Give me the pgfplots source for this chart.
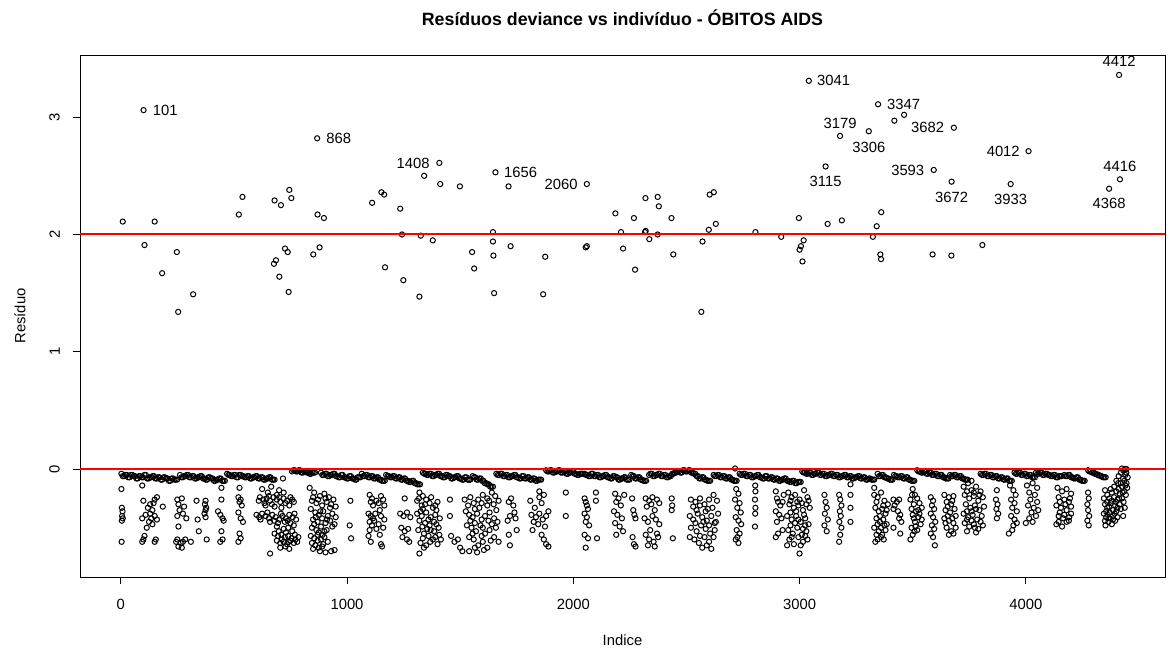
\documentclass[border=0pt]{standalone}
\usepackage{fontspec}
\setmainfont{Liberation Sans}
\usepackage{pgfplots}
\pgfplotsset{compat=1.18}
\begin{document}
\begin{tikzpicture}
\path[use as bounding box] (-80pt,-71pt) rectangle (1090pt,577pt);
\begin{axis}[
  at={(0pt,0pt)}, anchor=south west,
  scale only axis, width=1085pt, height=522pt,
  xmin=-180, xmax=4615, ymin=-0.92, ymax=3.53,
  axis line style={black, line width=0.8pt},
  xtick={0,1000,2000,3000,4000}, xticklabels={0,1000,2000,3000,4000},
  ytick={0,1,2,3}, yticklabels={0,1,2,3},
  xtick pos=left, ytick pos=left,
  tick align=outside, major tick length=7pt,
  every tick/.style={black, line width=0.8pt},
  /pgf/number format/assume math mode=true,
  xticklabel style={font=\fontsize{14.8}{17}\selectfont, anchor=base, inner sep=0pt},
  yticklabel style={font=\fontsize{14.8}{17}\selectfont, rotate=90, anchor=south, inner sep=0pt},
  xticklabel shift=25.5pt, yticklabel shift=13pt,
  clip mode=individual,
  mark options={line width=1pt, solid},
]
% points above zero
\addplot[only marks, mark=o, mark size=2.6pt, black] coordinates {
(9,2.11)(101,3.06)(105,1.91)(150,2.11)(183,1.67)(248,1.85)(254,1.34)(320,1.49)(522,2.17)(538,2.32)(677,1.75)(680,2.29)(686,1.78)(701,1.64)(708,2.25)(726,1.88)(738,1.85)(742,1.51)(745,2.38)(754,2.31)(851,1.83)(868,2.82)(870,2.17)(879,1.89)(898,2.14)
(1111,2.27)(1152,2.36)(1164,2.34)(1168,1.72)(1235,2.22)(1243,2.00)(1249,1.61)(1320,1.47)(1326,1.99)(1341,2.50)(1379,1.95)(1408,2.61)(1412,2.43)(1499,2.41)(1553,1.85)(1562,1.71)(1645,2.02)(1645,1.94)(1647,1.82)(1650,1.50)(1656,2.53)(1714,2.41)(1723,1.90)(1867,1.49)(1876,1.81)(2055,1.89)(2060,1.90)(2060,2.43)(2186,2.18)(2211,2.02)(2220,1.88)
(2268,2.14)(2273,1.70)(2317,2.02)(2319,2.31)(2320,2.03)(2336,1.96)(2373,2.32)(2373,2.00)(2378,2.24)(2434,2.14)(2442,1.83)(2566,1.34)(2571,1.94)(2599,2.04)(2603,2.34)(2621,2.36)(2630,2.09)(2805,2.02)(2919,1.98)(2997,2.14)(3000,1.87)(3006,1.90)(3013,1.77)(3018,1.95)(3041,3.31)(3115,2.58)(3124,2.09)(3179,2.84)(3187,2.12)(3306,2.88)(3324,1.98)(3341,2.07)(3347,3.11)(3357,1.83)(3360,1.79)(3361,2.19)(3419,2.97)(3462,3.02)(3588,1.83)(3593,2.55)(3671,1.82)(3672,2.45)(3682,2.91)(3808,1.91)(3933,2.43)(4012,2.71)(4368,2.39)(4412,3.36)(4416,2.47)
};
% dense band just below zero
\addplot[only marks, mark=o, mark size=2.6pt, black] coordinates {
(3,-.04)(15,-.06)(27,-.05)(39,-.07)(51,-.05)(63,-.06)(75,-.08)(87,-.06)(99,-.07)(111,-.05)(123,-.08)(135,-.07)(147,-.06)(159,-.08)(171,-.07)(183,-.09)(195,-.07)(207,-.08)(219,-.1)(231,-.08)(243,-.09)
(262,-.05)(274,-.07)(286,-.06)(298,-.05)(310,-.07)(322,-.06)(334,-.08)(346,-.07)(358,-.06)(370,-.08)(382,-.09)(394,-.07)(406,-.08)(418,-.1)(430,-.09)(442,-.08)(454,-.1)
(470,-.04)(482,-.05)(494,-.06)(506,-.05)(518,-.07)(530,-.05)(542,-.06)(554,-.07)(566,-.06)(578,-.08)(590,-.07)(602,-.06)(614,-.08)(626,-.07)(638,-.09)(650,-.08)(662,-.07)(674,-.09)
(717,-.08)
(757,-.02)(769,-.01)(781,-.02)(793,-.01)(805,-.03)(817,-.02)(829,-.03)(841,-.04)(853,-.03)
(885,-.03)(897,-.05)(909,-.04)(921,-.06)(933,-.05)(945,-.04)(957,-.06)(969,-.07)(981,-.05)(993,-.07)(1005,-.08)(1017,-.06)(1029,-.08)(1041,-.09)(1053,-.07)
(1065,-.04)(1077,-.06)(1089,-.05)(1101,-.07)(1113,-.06)(1125,-.08)(1137,-.07)(1149,-.09)(1161,-.1)
(1173,-.05)(1185,-.06)(1197,-.07)(1209,-.06)(1221,-.08)(1233,-.07)(1245,-.09)(1257,-.08)(1269,-.1)(1281,-.11)(1293,-.1)(1305,-.12)(1317,-.13)
(1335,-.03)(1347,-.04)(1359,-.05)(1371,-.04)(1383,-.06)(1395,-.05)(1407,-.04)(1419,-.06)(1431,-.07)(1443,-.05)(1455,-.06)(1467,-.08)(1479,-.07)(1491,-.06)(1503,-.08)(1515,-.09)(1527,-.07)(1539,-.09)
(1555,-.06)(1567,-.07)(1579,-.09)(1591,-.08)(1603,-.1)(1615,-.12)(1627,-.13)(1639,-.15)
(1660,-.04)(1672,-.05)(1684,-.04)(1696,-.06)(1708,-.05)(1720,-.07)(1732,-.06)(1744,-.05)(1756,-.07)(1768,-.08)(1780,-.06)(1792,-.08)(1804,-.07)(1816,-.09)(1828,-.08)(1840,-.1)(1852,-.09)
(1880,-.01)(1892,-.02)(1904,-.01)(1916,-.03)(1928,-.02)(1940,-.01)(1952,-.03)(1964,-.02)(1976,-.04)(1988,-.03)(2000,-.02)(2012,-.04)(2024,-.05)(2036,-.04)
(2050,-.04)(2062,-.05)(2074,-.06)(2086,-.04)(2098,-.06)(2110,-.05)(2122,-.07)(2134,-.06)(2146,-.05)(2158,-.07)(2170,-.08)(2182,-.06)(2194,-.07)(2206,-.09)(2218,-.08)(2230,-.07)(2242,-.09)
(2256,-.05)(2268,-.06)(2280,-.08)(2292,-.07)(2304,-.09)(2316,-.1)
(2335,-.05)(2347,-.04)(2359,-.06)(2371,-.05)(2383,-.04)(2395,-.06)(2407,-.05)(2419,-.07)(2431,-.06)(2443,-.04)(2455,-.03)(2467,-.02)(2479,-.03)(2491,-.01)(2503,-.02)(2515,-.01)(2527,-.03)(2539,-.04)(2551,-.06)(2563,-.08)(2575,-.07)(2587,-.09)(2599,-.1)
(2620,-.05)(2632,-.06)(2644,-.05)(2656,-.07)(2668,-.06)(2680,-.08)(2692,-.07)(2704,-.09)(2716,-.1)
(2735,-.04)(2747,-.05)(2759,-.04)(2771,-.06)(2783,-.05)(2795,-.07)(2807,-.06)(2819,-.05)(2831,-.07)(2843,-.08)(2855,-.06)(2867,-.08)(2879,-.07)(2891,-.09)(2903,-.08)(2915,-.1)(2927,-.09)(2939,-.08)(2951,-.1)(2963,-.11)(2975,-.1)(2987,-.12)(2999,-.11)
(3012,-.02)(3024,-.03)(3036,-.04)(3048,-.03)(3060,-.05)(3072,-.04)(3084,-.03)(3096,-.05)(3108,-.04)(3120,-.06)(3132,-.05)(3144,-.04)(3156,-.06)(3168,-.05)(3180,-.07)(3192,-.06)(3204,-.05)(3216,-.07)(3228,-.06)(3240,-.08)(3252,-.07)(3264,-.06)(3276,-.08)(3288,-.07)(3300,-.09)(3312,-.08)(3324,-.09)
(3345,-.04)(3357,-.06)(3369,-.05)(3381,-.07)(3393,-.08)(3405,-.09)
(3417,-.05)(3429,-.06)(3441,-.07)(3453,-.06)(3465,-.08)(3477,-.07)(3489,-.09)(3501,-.1)
(3520,-.01)(3532,-.02)(3544,-.03)(3556,-.02)(3568,-.04)(3580,-.03)(3592,-.05)(3604,-.04)(3616,-.06)(3628,-.05)(3640,-.07)(3652,-.08)
(3665,-.05)(3677,-.06)(3689,-.05)(3701,-.07)(3713,-.06)(3725,-.08)(3737,-.09)
(3800,-.04)(3812,-.05)(3824,-.04)(3836,-.06)(3848,-.05)(3860,-.07)(3872,-.06)(3884,-.08)(3896,-.07)(3908,-.09)(3920,-.08)(3932,-.1)
(3950,-.03)(3962,-.04)(3974,-.03)(3986,-.05)(3998,-.04)(4010,-.06)(4022,-.05)(4034,-.07)
(4045,-.03)(4057,-.04)(4069,-.03)(4081,-.05)(4093,-.04)(4105,-.05)(4117,-.06)(4129,-.05)(4141,-.07)(4153,-.06)
(4170,-.05)(4182,-.06)(4194,-.05)(4206,-.07)(4218,-.08)(4230,-.07)(4242,-.09)(4254,-.1)
(4275,-.01)(4287,-.02)(4299,-.03)(4311,-.04)(4323,-.05)(4335,-.06)(4347,-.07)
(9,-.06)(21,-.05)(33,-.07)(45,-.05)(57,-.06)(69,-.08)(81,-.06)(93,-.07)(105,-.05)(117,-.08)(129,-.07)(141,-.06)(153,-.08)(165,-.07)(177,-.09)(189,-.07)(201,-.08)(213,-.1)(225,-.08)(237,-.09)(249,-.09)
(268,-.07)(280,-.06)(292,-.05)(304,-.07)(316,-.06)(328,-.08)(340,-.07)(352,-.06)(364,-.08)(376,-.09)(388,-.07)(400,-.08)(412,-.1)(424,-.09)(436,-.08)(448,-.1)(460,-.1)
(476,-.05)(488,-.06)(500,-.05)(512,-.07)(524,-.05)(536,-.06)(548,-.07)(560,-.06)(572,-.08)(584,-.07)(596,-.06)(608,-.08)(620,-.07)(632,-.09)(644,-.08)(656,-.07)(668,-.09)(680,-.09)
(763,-.01)(775,-.02)(787,-.01)(799,-.03)(811,-.02)(823,-.03)(835,-.04)(847,-.03)(859,-.03)
(891,-.05)(903,-.04)(915,-.06)(927,-.05)(939,-.04)(951,-.06)(963,-.07)(975,-.05)(987,-.07)(999,-.08)(1011,-.06)(1023,-.08)(1035,-.09)(1047,-.07)(1059,-.07)
(1071,-.06)(1083,-.05)(1095,-.07)(1107,-.06)(1119,-.08)(1131,-.07)(1143,-.09)(1155,-.1)(1167,-.1)
(1179,-.06)(1191,-.07)(1203,-.06)(1215,-.08)(1227,-.07)(1239,-.09)(1251,-.08)(1263,-.1)(1275,-.11)(1287,-.1)(1299,-.12)(1311,-.13)(1323,-.13)
(1341,-.04)(1353,-.05)(1365,-.04)(1377,-.06)(1389,-.05)(1401,-.04)(1413,-.06)(1425,-.07)(1437,-.05)(1449,-.06)(1461,-.08)(1473,-.07)(1485,-.06)(1497,-.08)(1509,-.09)(1521,-.07)(1533,-.09)(1545,-.09)
(1561,-.07)(1573,-.09)(1585,-.08)(1597,-.1)(1609,-.12)(1621,-.13)(1633,-.15)(1645,-.15)
(1666,-.05)(1678,-.04)(1690,-.06)(1702,-.05)(1714,-.07)(1726,-.06)(1738,-.05)(1750,-.07)(1762,-.08)(1774,-.06)(1786,-.08)(1798,-.07)(1810,-.09)(1822,-.08)(1834,-.1)(1846,-.09)(1858,-.09)
(1886,-.02)(1898,-.01)(1910,-.03)(1922,-.02)(1934,-.01)(1946,-.03)(1958,-.02)(1970,-.04)(1982,-.03)(1994,-.02)(2006,-.04)(2018,-.05)(2030,-.04)(2042,-.04)
(2056,-.05)(2068,-.06)(2080,-.04)(2092,-.06)(2104,-.05)(2116,-.07)(2128,-.06)(2140,-.05)(2152,-.07)(2164,-.08)(2176,-.06)(2188,-.07)(2200,-.09)(2212,-.08)(2224,-.07)(2236,-.09)(2248,-.09)
(2262,-.06)(2274,-.08)(2286,-.07)(2298,-.09)(2310,-.1)(2322,-.1)
(2341,-.04)(2353,-.06)(2365,-.05)(2377,-.04)(2389,-.06)(2401,-.05)(2413,-.07)(2425,-.06)(2437,-.04)(2449,-.03)(2461,-.02)(2473,-.03)(2485,-.01)(2497,-.02)(2509,-.01)(2521,-.03)(2533,-.04)(2545,-.06)(2557,-.08)(2569,-.07)(2581,-.09)(2593,-.1)(2605,-.1)
(2626,-.06)(2638,-.05)(2650,-.07)(2662,-.06)(2674,-.08)(2686,-.07)(2698,-.09)(2710,-.1)(2722,-.1)
(2741,-.05)(2753,-.04)(2765,-.06)(2777,-.05)(2789,-.07)(2801,-.06)(2813,-.05)(2825,-.07)(2837,-.08)(2849,-.06)(2861,-.08)(2873,-.07)(2885,-.09)(2897,-.08)(2909,-.1)(2921,-.09)(2933,-.08)(2945,-.1)(2957,-.11)(2969,-.1)(2981,-.12)(2993,-.11)(3005,-.11)
(3018,-.03)(3030,-.04)(3042,-.03)(3054,-.05)(3066,-.04)(3078,-.03)(3090,-.05)(3102,-.04)(3114,-.06)(3126,-.05)(3138,-.04)(3150,-.06)(3162,-.05)(3174,-.07)(3186,-.06)(3198,-.05)(3210,-.07)(3222,-.06)(3234,-.08)(3246,-.07)(3258,-.06)(3270,-.08)(3282,-.07)(3294,-.09)(3306,-.08)(3318,-.09)(3330,-.09)
(3351,-.06)(3363,-.05)(3375,-.07)(3387,-.08)(3399,-.09)(3411,-.09)
(3423,-.06)(3435,-.07)(3447,-.06)(3459,-.08)(3471,-.07)(3483,-.09)(3495,-.1)(3507,-.1)
(3526,-.02)(3538,-.03)(3550,-.02)(3562,-.04)(3574,-.03)(3586,-.05)(3598,-.04)(3610,-.06)(3622,-.05)(3634,-.07)(3646,-.08)(3658,-.08)
(3671,-.06)(3683,-.05)(3695,-.07)(3707,-.06)(3719,-.08)(3731,-.09)(3743,-.09)
(3806,-.05)(3818,-.04)(3830,-.06)(3842,-.05)(3854,-.07)(3866,-.06)(3878,-.08)(3890,-.07)(3902,-.09)(3914,-.08)(3926,-.1)(3938,-.1)
(3956,-.04)(3968,-.03)(3980,-.05)(3992,-.04)(4004,-.06)(4016,-.05)(4028,-.07)(4040,-.07)
(4051,-.04)(4063,-.03)(4075,-.05)(4087,-.04)(4099,-.05)(4111,-.06)(4123,-.05)(4135,-.07)(4147,-.06)(4159,-.06)
(4176,-.06)(4188,-.05)(4200,-.07)(4212,-.08)(4224,-.07)(4236,-.09)(4248,-.1)(4260,-.1)
(4281,-.02)(4293,-.03)(4305,-.04)(4317,-.05)(4329,-.06)(4341,-.07)(4353,-.07)
};
% scattered points below the band
\addplot[only marks, mark=o, mark size=2.6pt, black] coordinates {
(3,-.17)(5,-.33)(8,-.36)(6,-.40)(9,-.42)(5,-.44)(4,-.62)
(95,-.14)(150,-.26)(145,-.29)(160,-.24)(100,-.27)(130,-.30)(120,-.33)(140,-.35)(110,-.39)(150,-.40)(95,-.42)(125,-.45)(140,-.47)(115,-.50)(160,-.43)(105,-.57)(95,-.62)(100,-.60)(150,-.62)(155,-.60)(130,-.38)(135,-.42)(186,-.32)
(250,-.26)(270,-.25)(255,-.30)(280,-.32)(260,-.35)(275,-.38)(250,-.40)(290,-.42)(255,-.49)(250,-.60)(265,-.63)(275,-.62)(255,-.66)(270,-.67)(285,-.60)(245,-.62)(310,-.62)
(335,-.27)(340,-.43)(345,-.53)(375,-.27)(372,-.30)(378,-.33)(375,-.35)(370,-.38)(375,-.41)(380,-.60)
(445,-.16)(445,-.26)(430,-.36)(440,-.39)(450,-.42)(455,-.44)(445,-.53)(440,-.62)(450,-.60)
(525,-.16)(520,-.24)(530,-.26)(525,-.28)(535,-.31)(520,-.37)(530,-.42)(540,-.45)(525,-.55)(530,-.59)(520,-.62)
(625,-.17)(650,-.20)(665,-.15)(690,-.22)(700,-.18)(720,-.20)(615,-.24)(630,-.26)(645,-.25)(660,-.27)(675,-.24)(690,-.26)(705,-.28)(720,-.25)(735,-.27)(750,-.24)(765,-.28)(640,-.31)(680,-.32)(710,-.33)(745,-.31)
(600,-.39)(612,-.41)(625,-.38)(640,-.40)(655,-.42)(670,-.39)(685,-.41)(700,-.43)(715,-.40)(730,-.42)(745,-.39)(760,-.41)(775,-.43)(660,-.45)(695,-.46)(725,-.45)(750,-.46)
(690,-.49)(720,-.51)(740,-.50)(765,-.48)(680,-.55)(695,-.57)(710,-.56)(725,-.58)(740,-.57)(755,-.59)(770,-.56)(785,-.58)(690,-.61)(705,-.63)(720,-.62)(735,-.64)(750,-.61)(765,-.63)(780,-.62)(705,-.67)(745,-.68)(660,-.72)
(610,-.27)(635,-.29)(655,-.23)(668,-.30)(700,-.24)(728,-.29)(758,-.26)(618,-.43)(648,-.37)(678,-.44)(708,-.38)(738,-.44)(768,-.38)(698,-.53)(730,-.54)(758,-.53)(712,-.60)(742,-.62)(772,-.60)(728,-.66)
(835,-.16)(855,-.20)(880,-.23)(900,-.21)(920,-.24)(940,-.26)(845,-.27)(865,-.29)(890,-.31)(910,-.28)(930,-.30)(950,-.32)(840,-.34)(860,-.37)(875,-.39)(895,-.36)(915,-.40)(935,-.38)(950,-.41)
(850,-.43)(870,-.45)(890,-.42)(905,-.46)(925,-.44)(945,-.47)(845,-.50)(865,-.52)(885,-.49)(900,-.53)(840,-.57)(855,-.59)(870,-.56)(885,-.60)(900,-.58)(915,-.62)(845,-.63)(860,-.65)(875,-.67)(895,-.64)(880,-.70)(905,-.71)(930,-.70)(945,-.69)
(850,-.24)(872,-.26)(905,-.25)(925,-.33)(862,-.41)(882,-.36)(912,-.43)(935,-.49)(855,-.47)(875,-.54)(892,-.56)(910,-.52)(850,-.68)(870,-.61)(890,-.66)
(1015,-.27)(1012,-.48)(1018,-.59)
(1100,-.22)(1110,-.25)(1105,-.28)(1150,-.23)(1160,-.26)(1140,-.29)(1165,-.31)(1095,-.38)(1105,-.40)(1115,-.42)(1100,-.45)(1120,-.44)(1150,-.40)(1165,-.43)(1140,-.47)(1160,-.50)(1100,-.52)(1095,-.57)(1105,-.62)(1150,-.64)(1155,-.66)(1125,-.38)
(1115,-.31)(1130,-.27)(1145,-.35)(1110,-.48)(1130,-.51)(1145,-.56)
(1255,-.25)(1235,-.38)(1250,-.40)(1265,-.37)(1280,-.41)(1240,-.50)(1255,-.53)(1270,-.51)(1245,-.58)(1265,-.60)(1275,-.62)
(1320,-.20)(1335,-.23)(1310,-.27)(1350,-.26)(1365,-.29)(1330,-.31)(1380,-.33)(1400,-.28)(1310,-.38)(1330,-.40)(1350,-.37)(1370,-.41)(1390,-.39)(1410,-.42)(1320,-.44)(1345,-.46)(1365,-.48)(1385,-.45)(1405,-.50)(1315,-.52)(1340,-.55)(1360,-.57)(1390,-.58)(1415,-.60)(1325,-.63)(1350,-.65)(1380,-.60)(1400,-.64)(1320,-.72)(1340,-.67)(1370,-.52)(1395,-.35)(1335,-.34)
(1318,-.25)(1345,-.30)(1372,-.24)(1390,-.31)(1325,-.36)(1360,-.43)(1395,-.47)(1333,-.49)(1355,-.51)(1385,-.53)(1408,-.56)(1335,-.59)(1368,-.62)
(1455,-.26)(1455,-.40)(1460,-.57)(1475,-.62)(1500,-.67)(1510,-.70)(1490,-.60)
(1520,-.26)(1545,-.24)(1560,-.29)(1580,-.26)(1600,-.22)(1620,-.25)(1640,-.20)(1655,-.23)(1670,-.27)(1525,-.36)(1540,-.39)(1555,-.41)(1575,-.38)(1595,-.43)(1610,-.40)(1630,-.37)(1650,-.42)(1665,-.45)(1530,-.48)(1550,-.50)(1570,-.53)(1590,-.48)(1610,-.55)(1630,-.52)(1650,-.58)(1670,-.62)(1540,-.58)(1560,-.60)(1580,-.65)(1600,-.62)(1620,-.67)(1540,-.70)(1575,-.71)(1640,-.47)(1585,-.33)(1620,-.31)(1660,-.35)
(1535,-.31)(1565,-.34)(1595,-.29)(1628,-.27)(1648,-.30)(1545,-.44)(1565,-.46)(1600,-.50)(1625,-.44)(1658,-.50)(1555,-.55)(1595,-.57)(1635,-.61)(1565,-.67)(1605,-.69)
(1715,-.28)(1725,-.25)(1735,-.31)(1740,-.37)(1720,-.40)(1745,-.42)(1710,-.44)(1750,-.52)(1715,-.56)(1720,-.65)
(1810,-.27)(1830,-.33)(1850,-.24)(1870,-.22)(1860,-.29)(1815,-.39)(1835,-.41)(1850,-.38)(1865,-.43)(1880,-.40)(1825,-.45)(1845,-.47)(1875,-.49)(1890,-.36)(1820,-.52)(1860,-.56)(1870,-.60)(1880,-.64)(1890,-.66)(1850,-.19)
(1967,-.20)(1967,-.40)
(2050,-.25)(2055,-.28)(2060,-.31)(2065,-.34)(2050,-.38)(2060,-.41)(2055,-.45)(2070,-.48)(2050,-.56)(2065,-.59)(2055,-.67)(2100,-.20)(2100,-.27)(2105,-.59)
(2185,-.21)(2200,-.25)(2190,-.28)(2210,-.31)(2180,-.36)(2195,-.39)(2215,-.42)(2185,-.46)(2205,-.49)(2220,-.53)(2190,-.56)(2225,-.22)
(2260,-.25)(2265,-.35)(2270,-.39)(2275,-.42)(2262,-.58)(2268,-.64)(2275,-.66)
(2320,-.25)(2335,-.27)(2350,-.24)(2370,-.26)(2380,-.29)(2325,-.32)(2345,-.30)(2360,-.35)(2315,-.42)(2330,-.45)(2350,-.40)(2365,-.43)(2380,-.47)(2340,-.52)(2370,-.55)(2320,-.56)(2335,-.60)(2355,-.62)(2375,-.58)(2330,-.65)(2360,-.66)
(2435,-.25)(2437,-.31)(2435,-.35)(2440,-.59)
(2520,-.26)(2540,-.28)(2560,-.25)(2580,-.30)(2600,-.26)(2620,-.22)(2635,-.27)(2515,-.40)(2530,-.43)(2550,-.38)(2570,-.41)(2590,-.44)(2610,-.40)(2625,-.46)(2640,-.38)(2520,-.50)(2545,-.53)(2565,-.48)(2585,-.51)(2605,-.55)(2625,-.52)(2515,-.58)(2535,-.60)(2555,-.63)(2580,-.58)(2600,-.62)(2570,-.67)(2610,-.68)(2630,-.45)(2595,-.34)(2545,-.35)
(2530,-.32)(2560,-.31)(2585,-.36)(2615,-.33)(2540,-.46)(2575,-.45)(2600,-.48)(2620,-.58)(2560,-.57)(2590,-.65)
(2715,.005)(2720,-.17)(2730,-.21)(2715,-.26)(2735,-.29)(2725,-.33)(2740,-.37)(2718,-.41)(2730,-.44)(2742,-.47)(2722,-.52)(2735,-.55)(2725,-.58)(2730,-.63)(2718,-.60)
(2804,-.14)(2805,-.19)(2803,-.26)(2805,-.33)(2804,-.38)(2803,-.49)
(2895,-.19)(2900,-.25)(2905,-.28)(2915,-.31)(2895,-.36)(2910,-.39)(2920,-.42)(2900,-.45)(2925,-.28)(2930,-.22)(2895,-.58)(2905,-.55)(2925,-.52)
(2950,-.20)(2965,-.24)(2980,-.22)(3000,-.26)(3020,-.18)(3035,-.24)(2955,-.30)(2975,-.33)(2995,-.31)(3015,-.35)(3030,-.30)(3045,-.33)(2945,-.40)(2965,-.43)(2985,-.40)(3005,-.45)(3025,-.42)(3040,-.47)(2950,-.52)(2970,-.55)(2990,-.50)(3010,-.56)(3030,-.53)(2955,-.60)(2975,-.64)(2995,-.58)(3015,-.62)(3035,-.60)(2945,-.65)(3000,-.72)(2985,-.36)(3025,-.48)
(2960,-.27)(2990,-.28)(3010,-.29)(3040,-.27)(2960,-.37)(2995,-.43)(3020,-.39)(2960,-.48)(2980,-.46)(3015,-.51)(2965,-.58)(3005,-.65)(3025,-.57)
(3110,-.22)(3115,-.28)(3120,-.33)(3112,-.38)(3125,-.43)(3110,-.48)(3120,-.53)
(3175,-.22)(3180,-.26)(3185,-.31)(3178,-.36)(3182,-.40)(3176,-.45)(3185,-.50)(3180,-.56)(3175,-.62)
(3225,-.13)(3225,-.22)(3225,-.33)(3225,-.45)
(3330,-.22)(3345,-.24)(3360,-.20)(3375,-.27)(3390,-.30)(3335,-.33)(3350,-.36)(3365,-.34)(3380,-.38)(3340,-.42)(3355,-.45)(3370,-.43)(3385,-.47)(3330,-.50)(3350,-.53)(3365,-.56)(3380,-.52)(3345,-.60)(3360,-.58)(3335,-.62)(3375,-.48)(3355,-.40)(3330,-.16)
(3340,-.28)(3370,-.31)(3385,-.35)(3345,-.47)(3360,-.50)(3340,-.56)(3372,-.60)
(3415,-.26)(3430,-.28)(3440,-.26)(3420,-.31)(3415,-.34)(3435,-.36)(3445,-.39)(3440,-.42)(3450,-.45)(3415,-.50)(3445,-.55)
(3500,-.17)(3510,-.22)(3490,-.26)(3520,-.25)(3505,-.30)(3530,-.29)(3495,-.34)(3515,-.36)(3540,-.33)(3500,-.39)(3525,-.41)(3510,-.45)(3535,-.47)(3495,-.50)(3520,-.52)(3500,-.56)(3490,-.60)(3540,-.43)
(3497,-.22)(3525,-.35)(3505,-.42)(3530,-.38)(3512,-.49)(3508,-.53)
(3580,-.24)(3590,-.27)(3585,-.31)(3595,-.34)(3580,-.38)(3590,-.41)(3600,-.45)(3585,-.48)(3595,-.51)(3580,-.55)(3590,-.58)(3598,-.65)
(3640,-.22)(3660,-.24)(3680,-.23)(3650,-.28)(3670,-.30)(3645,-.35)(3665,-.37)(3685,-.34)(3640,-.42)(3660,-.44)(3680,-.46)(3650,-.50)(3670,-.53)(3690,-.50)(3660,-.56)(3690,-.40)
(3655,-.32)(3675,-.27)(3655,-.40)(3675,-.42)(3645,-.46)(3680,-.55)
(3725,-.15)(3745,-.12)(3760,-.18)(3780,-.15)(3800,-.19)(3730,-.22)(3750,-.25)(3770,-.23)(3790,-.27)(3810,-.24)(3735,-.30)(3755,-.33)(3775,-.31)(3795,-.35)(3815,-.32)(3725,-.38)(3745,-.41)(3765,-.39)(3785,-.43)(3805,-.40)(3730,-.46)(3750,-.49)(3770,-.47)(3790,-.51)(3810,-.48)(3740,-.53)(3780,-.54)(3760,-.10)
(3740,-.19)(3770,-.20)(3795,-.22)(3740,-.36)(3760,-.36)(3780,-.34)(3800,-.45)(3760,-.44)(3775,-.50)(3740,-.43)
(3872,-.18)(3868,-.26)(3875,-.30)(3870,-.34)(3878,-.38)(3872,-.42)
(3930,-.14)(3945,-.18)(3955,-.22)(3935,-.26)(3950,-.29)(3940,-.33)(3960,-.36)(3935,-.40)(3950,-.43)(3945,-.48)(3940,-.52)(3960,-.46)(3925,-.55)
(4005,-.14)(4030,-.12)(4050,-.16)(4015,-.20)(4040,-.22)(4020,-.26)(4050,-.28)(4010,-.31)(4035,-.33)(4025,-.37)(4045,-.40)(4015,-.42)(4000,-.46)(4030,-.45)(4055,-.35)
(4140,-.16)(4160,-.19)(4180,-.17)(4200,-.21)(4145,-.24)(4170,-.26)(4190,-.28)(4135,-.31)(4155,-.33)(4180,-.35)(4200,-.38)(4145,-.40)(4165,-.42)(4190,-.44)(4135,-.47)(4160,-.49)(4180,-.45)(4200,-.32)
(4150,-.28)(4175,-.30)(4195,-.25)(4150,-.37)(4170,-.39)(4192,-.41)(4145,-.45)
(4275,-.20)(4278,-.25)(4272,-.30)(4275,-.35)(4280,-.40)(4272,-.44)(4278,-.48)
(4350,-.18)(4360,-.22)(4370,-.25)(4380,-.20)(4390,-.15)(4400,-.10)(4410,-.06)(4420,-.03)(4430,-.01)(4440,0)(4445,0)(4425,.005)(4350,-.30)(4360,-.33)(4375,-.29)(4385,-.35)(4395,-.31)(4405,-.26)(4415,-.21)(4425,-.15)(4435,-.10)(4440,-.05)(4345,-.38)(4355,-.41)(4370,-.37)(4385,-.40)(4400,-.36)(4415,-.30)(4425,-.25)(4435,-.19)(4445,-.12)(4450,-.07)(4365,-.45)(4380,-.47)(4395,-.44)(4405,-.41)(4420,-.34)(4432,-.28)(4442,-.22)(4448,-.16)(4350,-.44)(4360,-.28)(4390,-.24)(4410,-.17)(4430,-.40)(4345,-.25)(4375,-.17)(4400,-.19)(4420,-.12)(4437,-.33)
(4355,-.36)(4368,-.32)(4380,-.27)(4393,-.38)(4405,-.33)(4412,-.25)(4428,-.20)(4440,-.14)(4352,-.48)(4370,-.42)(4362,-.39)(4385,-.43)(4398,-.28)(4430,-.08)(4444,-.03)(4408,-.12)
};
% reference lines
\addplot[red, line width=2pt] coordinates {(-180,0)(4615,0)};
\addplot[red, line width=2pt] coordinates {(-180,2)(4615,2)};
% point labels
\begin{scope}[every node/.style={font=\fontsize{14.8}{17}\selectfont, inner sep=0pt, anchor=center}]
\node[xshift=21.7pt] at (axis cs:101,3.06) {101};
\node[xshift=21.7pt] at (axis cs:868,2.82) {868};
\node[xshift=-26.2pt] at (axis cs:1408,2.61) {1408};
\node[xshift=25.2pt] at (axis cs:1656,2.53) {1656};
\node[xshift=-25.7pt] at (axis cs:2060,2.43) {2060};
\node[xshift=24.7pt] at (axis cs:3041,3.31) {3041};
\node[yshift=12.7pt] at (axis cs:3179,2.84) {3179};
\node[yshift=-15.7pt] at (axis cs:3306,2.88) {3306};
\node[yshift=-14.7pt] at (axis cs:3115,2.58) {3115};
\node[xshift=25.6pt] at (axis cs:3347,3.11) {3347};
\node[xshift=-26.3pt] at (axis cs:3682,2.91) {3682};
\node[xshift=-25.3pt] at (axis cs:4012,2.71) {4012};
\node[xshift=-26pt] at (axis cs:3593,2.55) {3593};
\node[yshift=-15.3pt] at (axis cs:3672,2.45) {3672};
\node[yshift=-15.7pt] at (axis cs:3933,2.43) {3933};
\node[yshift=13.7pt] at (axis cs:4412,3.36) {4412};
\node[yshift=13.3pt] at (axis cs:4416,2.47) {4416};
\node[yshift=-14.7pt] at (axis cs:4368,2.39) {4368};
\end{scope}
\coordinate (T) at (rel axis cs:0.5,1);
\coordinate (B) at (rel axis cs:0.5,0);
\coordinate (L) at (rel axis cs:0,0.5);
\end{axis}
\node[anchor=base, inner sep=0pt, font=\bfseries\fontsize{17.8}{21}\selectfont] at ([yshift=29pt]T) {Resíduos deviance vs indivíduo - ÓBITOS AIDS};
\node[anchor=base, inner sep=0pt, font=\fontsize{14.8}{17}\selectfont] at ([yshift=-68pt]B) {Indice};
\node[anchor=base, inner sep=0pt, rotate=90, font=\fontsize{14.8}{17}\selectfont] at ([xshift=-54.5pt]L) {Resíduo};
\end{tikzpicture}
\end{document}
